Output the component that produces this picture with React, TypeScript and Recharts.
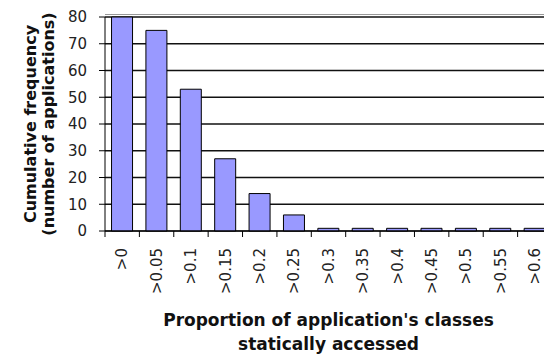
import { Bar, BarChart, CartesianGrid, Label, XAxis, YAxis } from "recharts"

const categories = [">0", ">0.05", ">0.1", ">0.15", ">0.2", ">0.25", ">0.3", ">0.35", ">0.4", ">0.45", ">0.5", ">0.55", ">0.6"]
const frequency = [80, 75, 53, 27, 14, 6, 1, 1, 1, 1, 1, 1, 1]
const yTicks = [0, 10, 20, 30, 40, 50, 60, 70, 80]

const data = categories.map((c, i) => ({ name: c, value: frequency[i] }))

const CHART_W = 560
const CHART_H = 356
const LEFT = 105
const RIGHT_MARGIN = 8
const BAND = (CHART_W - RIGHT_MARGIN - LEFT) / categories.length

const tickFont = "'DejaVu Sans', sans-serif"

function XTick(props: any) {
  const { x, y, payload } = props
  const left = x - BAND / 2
  return (
    <g>
      <line x1={left} y1={y} x2={left} y2={y + 6} stroke="#000" />
      <text
        x={x}
        y={y + 17}
        dy="0.35em"
        transform={`rotate(-90, ${x}, ${y + 17})`}
        textAnchor="end"
        fontFamily={tickFont}
        fontSize={15}
        fill="#222"
      >
        {payload.value}
      </text>
    </g>
  )
}

function YTitle(props: any) {
  const { viewBox } = props
  const cy = viewBox.y + viewBox.height / 2
  const lines = [
    { t: "Cumulative frequency", x: 36 },
    { t: "(number of applications)", x: 54 },
  ]
  return (
    <g>
      {/* grey double edge above the top gridline */}
      <line
        x1={viewBox.x + viewBox.width}
        x2={CHART_W - RIGHT_MARGIN}
        y1={viewBox.y - 2.5}
        y2={viewBox.y - 2.5}
        stroke="#999"
        strokeWidth={1}
      />
      {lines.map((l) => (
        <text
          key={l.t}
          x={l.x}
          y={cy}
          transform={`rotate(-90, ${l.x}, ${cy})`}
          textAnchor="middle"
          fontFamily={tickFont}
          fontWeight="bold"
          fontSize={16}
          fill="#111"
        >
          {l.t}
        </text>
      ))}
    </g>
  )
}

function XTitle(props: any) {
  const { viewBox } = props
  const cx = viewBox.x + viewBox.width / 2
  return (
    <g fontFamily={tickFont} fontWeight="bold" fontSize={17} fill="#111" textAnchor="middle">
      <text x={cx} y={viewBox.y + 95}>Proportion of application's classes</text>
      <text x={cx} y={viewBox.y + 119}>statically accessed</text>
    </g>
  )
}

export default function App() {
  return (
    <div style={{ position: "absolute", left: 0, top: 0, width: 544, height: 356, overflow: "hidden", background: "#fff" }}>
      <BarChart
        width={CHART_W}
        height={CHART_H}
        data={data}
        margin={{ top: 17, right: RIGHT_MARGIN, left: 0, bottom: 0 }}
        barCategoryGap="19%"
      >
        <CartesianGrid vertical={false} stroke="#111" strokeWidth={1.3} />
        <XAxis
          dataKey="name"
          height={125}
          interval={0}
          tickLine={false}
          tickSize={0}
          tickMargin={0}
          axisLine={{ stroke: "#000" }}
          tick={<XTick />}
        >
          <Label content={<XTitle />} />
        </XAxis>
        <YAxis
          width={LEFT}
          domain={[0, 80]}
          ticks={yTicks}
          interval={0}
          tickSize={6}
          tickMargin={12}
          axisLine={{ stroke: "#000" }}
          tickLine={{ stroke: "#000" }}
          tick={{ fontFamily: tickFont, fontSize: 15, fill: "#222" }}
        >
          <Label content={<YTitle />} />
        </YAxis>
        <Bar dataKey="value" fill="#9999ff" stroke="#000" strokeWidth={1} isAnimationActive={false} />
      </BarChart>
    </div>
  )
}
